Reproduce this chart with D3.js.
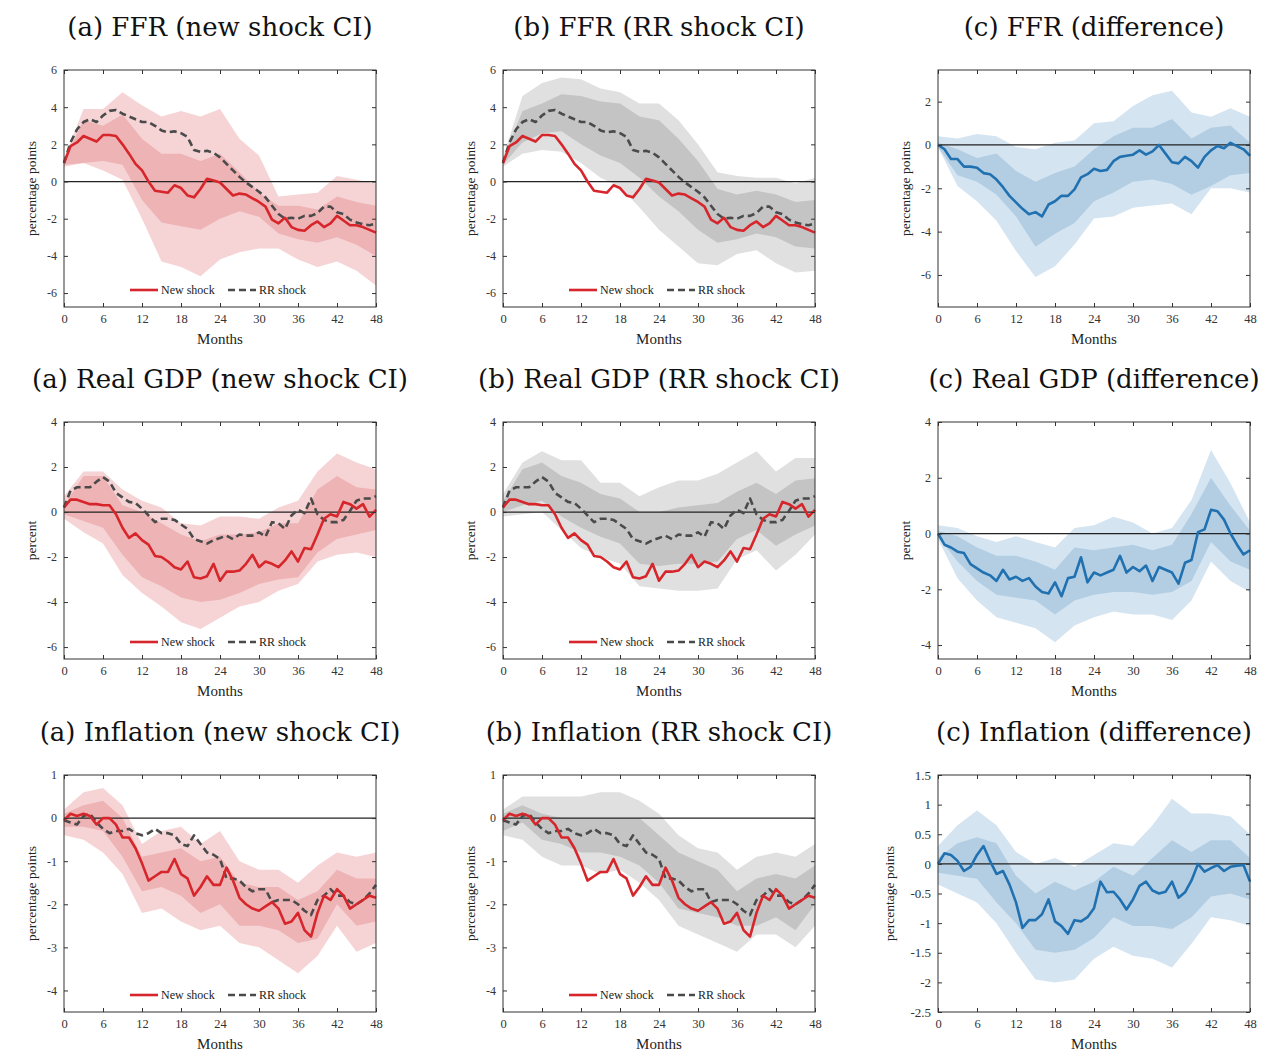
<!DOCTYPE html>
<html>
<head>
<meta charset="utf-8">
<script src="https://cdn.jsdelivr.net/npm/d3@7"></script>
<style>
  body { margin: 0; background: #fff; }
  text { font-family: "Liberation Serif", "DejaVu Serif", serif; }
</style>
</head>
<body>
<script>
// months 0..48 for lines, every 3 months for bands
const months = d3.range(0, 49);
const bandMonths = d3.range(0, 49, 3);

// ---------- FFR ----------
const ffrNew = [1.0,1.9,2.1,2.45,2.3,2.15,2.5,2.5,2.45,2.0,1.5,0.95,0.6,0.0,-0.5,-0.55,-0.6,-0.2,-0.35,-0.75,-0.85,-0.4,0.15,0.05,-0.05,-0.4,-0.75,-0.65,-0.7,-0.9,-1.1,-1.35,-2.05,-2.25,-1.95,-2.45,-2.6,-2.65,-2.35,-2.15,-2.45,-2.25,-1.85,-2.1,-2.35,-2.35,-2.45,-2.6,-2.75];
const ffrRR = [1.0,2.1,2.8,3.2,3.35,3.2,3.55,3.8,3.85,3.65,3.5,3.35,3.2,3.2,3.0,2.75,2.65,2.7,2.6,2.4,1.7,1.6,1.65,1.55,1.3,0.95,0.6,0.25,-0.05,-0.3,-0.55,-0.85,-1.3,-1.75,-2.0,-1.95,-2.0,-1.85,-1.85,-1.7,-1.35,-1.35,-1.65,-1.75,-2.05,-2.2,-2.3,-2.35,-2.25];
const ffrDiff = [0,-0.2,-0.65,-0.65,-1.0,-1.0,-1.05,-1.3,-1.35,-1.6,-1.95,-2.35,-2.65,-2.95,-3.2,-3.1,-3.3,-2.75,-2.6,-2.35,-2.35,-2.05,-1.5,-1.35,-1.1,-1.2,-1.15,-0.75,-0.55,-0.5,-0.45,-0.25,-0.45,-0.3,0.0,-0.4,-0.8,-0.85,-0.55,-0.75,-1.05,-0.55,-0.25,-0.05,-0.15,0.1,-0.05,-0.2,-0.5];
const ffrNewIn  = { hi: [1.1,3.3,3.0,3.6,2.3,1.5,1.5,1.1,1.5,0.5,-0.6,-1.3,-1.3,-1.5,-0.8,-1.1,-1.3], lo: [0.9,1.0,1.1,0.9,-1.0,-2.2,-2.4,-2.6,-2.0,-1.6,-1.9,-2.8,-3.1,-3.3,-3.0,-3.4,-4.0] };
const ffrNewOut = { hi: [1.2,3.9,3.9,4.8,4.1,3.5,3.8,3.5,3.9,2.3,1.4,-0.8,-0.7,-0.6,0.3,0.1,-0.1], lo: [0.8,1.0,0.6,0.1,-2.0,-4.3,-4.6,-5.1,-4.2,-3.8,-3.6,-3.6,-4.2,-4.6,-4.3,-4.8,-5.6] };
const ffrRRIn   = { hi: [1.2,3.8,4.2,4.7,4.6,4.3,4.2,3.5,3.3,2.3,1.1,-0.4,-0.7,-0.5,-0.7,-1.1,-1.0], lo: [0.9,2.1,2.6,2.7,2.0,1.4,1.0,0.2,-0.8,-1.6,-2.6,-3.3,-3.1,-2.8,-3.0,-3.5,-3.6] };
const ffrRROut  = { hi: [1.3,4.6,5.3,5.6,5.5,5.0,4.8,4.2,4.2,3.3,2.0,0.5,0.3,0.2,0.2,-0.1,0.2], lo: [0.8,1.5,1.7,1.6,1.0,0.2,-0.3,-1.4,-2.6,-3.5,-4.4,-4.5,-3.9,-3.7,-4.4,-4.9,-4.8] };
const ffrDiffIn  = { hi: [0.1,-0.2,-0.6,-0.4,-1.2,-1.7,-1.3,-1.0,-0.2,0.4,0.8,0.8,1.2,0.3,0.8,0.9,0.1], lo: [-0.1,-1.4,-1.7,-2.3,-3.3,-4.7,-4.1,-3.6,-2.6,-2.2,-1.7,-1.6,-1.8,-2.3,-1.9,-1.4,-1.3] };
const ffrDiffOut = { hi: [0.4,0.3,0.5,0.4,-0.1,-0.2,0.1,0.2,1.0,1.1,1.8,2.3,2.5,1.5,1.3,1.7,1.3], lo: [-0.1,-1.9,-2.6,-3.5,-4.9,-6.1,-5.6,-4.6,-3.4,-3.3,-2.9,-2.8,-2.7,-3.2,-2.0,-2.0,-2.2] };

// ---------- Real GDP ----------
const gdpNew = [0.2,0.55,0.55,0.45,0.35,0.35,0.3,0.3,-0.1,-0.7,-1.15,-0.95,-1.25,-1.45,-1.95,-2.0,-2.2,-2.45,-2.55,-2.2,-2.9,-2.95,-2.85,-2.3,-3.05,-2.65,-2.65,-2.6,-2.3,-1.9,-2.45,-2.2,-2.3,-2.45,-2.15,-1.75,-2.2,-1.6,-1.65,-1.0,-0.3,-0.1,-0.2,0.45,0.35,0.15,0.35,-0.2,0.1];
const gdpRR = [0.2,0.95,1.1,1.1,1.1,1.35,1.55,1.35,0.85,0.65,0.45,0.4,0.15,-0.15,-0.45,-0.3,-0.3,-0.35,-0.55,-0.75,-1.2,-1.3,-1.4,-1.25,-1.15,-1.05,-1.2,-1.0,-1.05,-1.05,-0.9,-1.1,-0.45,-0.5,-0.75,-0.15,0.1,-0.05,0.6,-0.1,-0.35,-0.45,-0.45,-0.35,0.05,0.5,0.6,0.6,0.7];
const gdpDiff = [0,-0.4,-0.5,-0.65,-0.7,-1.1,-1.25,-1.4,-1.5,-1.7,-1.3,-1.65,-1.55,-1.7,-1.6,-1.9,-2.1,-2.15,-1.75,-2.25,-1.6,-1.55,-0.85,-1.75,-1.4,-1.5,-1.4,-1.3,-0.8,-1.4,-1.2,-1.35,-1.15,-1.7,-1.2,-1.3,-1.4,-1.8,-1.05,-0.95,0.05,0.15,0.85,0.8,0.5,0.0,-0.4,-0.75,-0.6];
const gdpNewIn  = { hi: [0.3,1.6,1.6,0.3,0.0,-0.5,-1.0,-1.3,-1.0,-1.0,-0.9,-0.5,-0.5,1.0,1.6,1.1,1.0], lo: [-0.1,-0.4,-0.7,-1.9,-2.9,-3.3,-3.8,-4.0,-3.9,-3.6,-3.2,-3.0,-2.9,-1.8,-1.2,-1.0,-0.8] };
const gdpNewOut = { hi: [0.7,1.8,1.8,1.0,0.5,0.2,-0.5,-0.6,-0.2,-0.2,-0.3,0.2,0.5,1.8,2.6,2.2,1.9], lo: [-0.3,-0.9,-1.4,-2.8,-3.6,-4.2,-4.9,-5.2,-4.7,-4.2,-4.0,-3.5,-3.2,-2.2,-1.9,-1.8,-2.0] };
const gdpRRIn   = { hi: [0.5,1.9,2.2,1.6,1.3,0.8,0.6,0.0,0.0,0.2,0.3,0.4,0.9,1.3,0.8,1.4,1.5], lo: [0.0,0.3,0.5,-0.2,-0.7,-1.1,-1.4,-2.3,-2.4,-2.3,-2.3,-2.2,-1.2,-0.8,-1.5,-1.0,-0.6] };
const gdpRROut  = { hi: [0.8,2.2,2.7,2.3,2.3,1.3,1.3,0.7,1.1,1.4,1.4,1.7,2.2,2.7,1.8,2.4,2.4], lo: [-0.2,-0.1,0.0,-0.8,-1.6,-2.0,-2.3,-3.3,-3.4,-3.5,-3.5,-3.4,-2.1,-1.7,-2.6,-1.9,-1.0] };
const gdpDiffIn  = { hi: [0.1,-0.1,-0.5,-0.8,-0.8,-1.0,-1.3,-0.5,-0.6,-0.5,-0.4,-0.6,-0.4,0.7,2.0,1.0,0.1], lo: [-0.1,-1.0,-1.7,-2.2,-2.3,-2.4,-2.9,-2.4,-2.2,-2.1,-2.1,-2.2,-2.1,-1.7,-0.3,-1.0,-1.3] };
const gdpDiffOut = { hi: [0.3,0.2,-0.1,-0.3,-0.1,-0.3,-0.5,0.2,0.3,0.6,0.4,0.0,0.2,1.2,3.0,1.8,0.4], lo: [-0.2,-1.6,-2.4,-3.0,-3.2,-3.4,-3.9,-3.3,-3.0,-2.8,-2.9,-2.9,-3.1,-2.4,-1.0,-1.7,-2.1] };

// ---------- Inflation ----------
const infNew = [-0.05,0.1,0.05,0.1,0.05,-0.15,0.0,0.0,-0.15,-0.45,-0.45,-0.7,-1.05,-1.45,-1.35,-1.25,-1.25,-0.95,-1.3,-1.4,-1.8,-1.6,-1.35,-1.55,-1.55,-1.15,-1.45,-1.85,-2.0,-2.1,-2.15,-2.05,-1.95,-2.1,-2.45,-2.4,-2.2,-2.6,-2.75,-2.2,-1.8,-1.9,-1.65,-1.8,-2.1,-2.0,-1.9,-1.8,-1.85];
const infRR = [-0.05,-0.1,-0.15,0.05,0.1,-0.1,-0.25,-0.35,-0.3,-0.3,-0.25,-0.35,-0.4,-0.35,-0.25,-0.35,-0.35,-0.4,-0.6,-0.65,-0.4,-0.6,-0.8,-0.85,-0.95,-1.4,-1.4,-1.45,-1.6,-1.7,-1.65,-1.65,-1.95,-1.9,-1.9,-1.9,-2.0,-2.15,-2.25,-1.9,-1.8,-1.65,-1.8,-1.8,-1.95,-2.0,-1.9,-1.75,-1.55];
const infDiff = [0,0.18,0.15,0.05,-0.12,-0.05,0.15,0.3,0.05,-0.17,-0.12,-0.35,-0.65,-1.08,-0.95,-0.95,-0.85,-0.6,-0.97,-1.05,-1.18,-0.95,-0.97,-0.9,-0.75,-0.3,-0.48,-0.47,-0.6,-0.77,-0.6,-0.37,-0.3,-0.45,-0.5,-0.47,-0.3,-0.57,-0.48,-0.28,0.0,-0.13,-0.07,-0.02,-0.12,-0.05,-0.03,-0.02,-0.3];
const infNewIn  = { hi: [0.1,0.3,0.4,0.0,-0.9,-0.8,-0.7,-1.0,-0.9,-1.5,-1.6,-1.6,-1.9,-1.7,-1.2,-1.4,-1.4], lo: [-0.2,-0.2,-0.3,-0.9,-1.7,-1.6,-1.8,-2.2,-2.0,-2.5,-2.5,-2.6,-2.9,-2.8,-2.0,-2.5,-2.4] };
const infNewOut = { hi: [0.2,0.6,0.7,0.3,-0.6,-0.3,-0.2,-0.6,-0.3,-1.0,-1.2,-1.2,-1.5,-1.1,-0.8,-0.9,-0.8], lo: [-0.4,-0.5,-0.8,-1.3,-2.2,-2.1,-2.4,-2.6,-2.5,-2.9,-3.0,-3.3,-3.6,-3.2,-2.5,-3.1,-2.9] };
const infRRIn   = { hi: [0.1,0.3,0.1,0.0,0.0,0.0,0.0,0.0,-0.4,-0.8,-1.0,-1.2,-1.7,-1.4,-1.3,-1.4,-1.1], lo: [-0.3,-0.1,-0.5,-0.6,-0.8,-0.8,-0.9,-1.1,-1.5,-2.1,-2.2,-2.3,-2.5,-2.5,-2.3,-2.6,-2.0] };
const infRROut  = { hi: [0.2,0.5,0.5,0.5,0.5,0.6,0.6,0.4,0.1,-0.4,-0.7,-0.8,-1.2,-0.9,-0.8,-0.9,-0.6], lo: [-0.4,-0.5,-0.9,-1.1,-1.1,-1.3,-1.2,-1.5,-1.9,-2.5,-2.7,-2.9,-3.1,-2.7,-2.7,-3.0,-2.5] };
const infDiffIn  = { hi: [0.1,0.35,0.45,0.35,-0.2,-0.5,-0.3,-0.45,-0.3,-0.05,-0.2,0.1,0.4,0.2,0.4,0.4,0.1], lo: [-0.15,-0.2,-0.25,-0.65,-1.0,-1.45,-1.5,-1.45,-1.25,-0.9,-1.05,-1.05,-1.1,-0.9,-0.55,-0.5,-0.6] };
const infDiffOut = { hi: [0.3,0.65,0.9,0.65,0.2,0.0,0.1,-0.05,0.15,0.35,0.3,0.65,1.1,0.85,0.85,0.8,0.5], lo: [-0.35,-0.5,-0.65,-1.0,-1.5,-1.95,-2.0,-1.95,-1.6,-1.4,-1.55,-1.6,-1.75,-1.35,-0.9,-0.95,-1.05] };

const xTicks = d3.range(0, 49, 6);

const colors = {
  red: "#d7262b", redOut: "#f6d4d6", redIn: "#eeb3b5",
  gray: "#4a4a4a", grayOut: "#e0e0e0", grayIn: "#c4c4c4",
  blue: "#2171b0", blueOut: "#d4e4f1", blueIn: "#b3cee3"
};

const rows = [
  { name: "FFR", unit: "percentage points", top: 70, dom: [-6.75, 6], yt: d3.range(-6, 7, 2), domC: [-7.48, 3.46], ytC: d3.range(-6, 3, 2),
    nw: ffrNew, rr: ffrRR, diff: ffrDiff, nIn: ffrNewIn, nOut: ffrNewOut, rIn: ffrRRIn, rOut: ffrRROut, dIn: ffrDiffIn, dOut: ffrDiffOut },
  { name: "Real GDP", unit: "percent", top: 422, dom: [-6.53, 4], yt: d3.range(-6, 5, 2), domC: [-4.5, 4], ytC: d3.range(-4, 5, 2),
    nw: gdpNew, rr: gdpRR, diff: gdpDiff, nIn: gdpNewIn, nOut: gdpNewOut, rIn: gdpRRIn, rOut: gdpRROut, dIn: gdpDiffIn, dOut: gdpDiffOut },
  { name: "Inflation", unit: "percentage points", top: 775, dom: [-4.5, 1], yt: d3.range(-4, 2, 1), domC: [-2.5, 1.5], ytC: d3.range(-2.5, 1.6, 0.5),
    nw: infNew, rr: infRR, diff: infDiff, nIn: infNewIn, nOut: infNewOut, rIn: infRRIn, rOut: infRROut, dIn: infDiffIn, dOut: infDiffOut }
];

const colX = [64, 503, 938];
const plotW = 312, plotH = 237;

const svg = d3.select("body").append("svg").attr("width", 1265).attr("height", 1051);

function bandArea(g, x, y, band, fill) {
  const pts = bandMonths.map((m, i) => ({ m: m, lo: band.lo[i], hi: band.hi[i] }));
  g.append("path").datum(pts)
    .attr("fill", fill)
    .attr("d", d3.area().x(d => x(d.m)).y0(d => y(d.lo)).y1(d => y(d.hi)));
}

function lineOf(g, x, y, vals, color, dash) {
  g.append("path").datum(vals)
    .attr("fill", "none").attr("stroke", color).attr("stroke-width", 2.6)
    .attr("stroke-dasharray", dash || null)
    .attr("stroke-linejoin", "round")
    .attr("d", d3.line().x((d, i) => x(months[i])).y(d => y(d)));
}

function panel(row, col) {
  const left = colX[col], top = row.top;
  const isDiff = col === 2;
  const x = d3.scaleLinear().domain([0, 48]).range([0, plotW]);
  const y = d3.scaleLinear().domain(isDiff ? row.domC : row.dom).range([plotH, 0]);
  const g = svg.append("g").attr("transform", `translate(${left},${top})`);

  const labels = ["(a) " + row.name + " (new shock CI)", "(b) " + row.name + " (RR shock CI)", "(c) " + row.name + " (difference)"];
  g.append("text").attr("x", plotW / 2).attr("y", -34).attr("text-anchor", "middle")
    .style("font-family", "'DejaVu Serif', serif").style("font-size", "26px")
    .attr("fill", "#111").text(labels[col]);

  if (col === 0) { bandArea(g, x, y, row.nOut, colors.redOut); bandArea(g, x, y, row.nIn, colors.redIn); }
  if (col === 1) { bandArea(g, x, y, row.rOut, colors.grayOut); bandArea(g, x, y, row.rIn, colors.grayIn); }
  if (isDiff) { bandArea(g, x, y, row.dOut, colors.blueOut); bandArea(g, x, y, row.dIn, colors.blueIn); }

  g.append("line").attr("x1", 0).attr("x2", plotW).attr("y1", y(0)).attr("y2", y(0))
    .attr("stroke", "#222").attr("stroke-width", 1.2);

  if (isDiff) {
    lineOf(g, x, y, row.diff, colors.blue);
  } else {
    lineOf(g, x, y, row.rr, colors.gray, "7,4");
    lineOf(g, x, y, row.nw, colors.red);
  }

  // axes, matlab style ticks inside on all sides
  const yt = isDiff ? row.ytC : row.yt;
  const axStyle = sel => {
    sel.select(".domain").remove();
    sel.selectAll("line").attr("stroke", "#333");
    sel.selectAll("text").attr("font-family", "Liberation Serif, serif").attr("fill", "#333");
  };
  const fs = isDiff && row.name === "Inflation" ? 13 : 12;
  g.append("g").attr("transform", `translate(0,${plotH})`)
    .call(d3.axisBottom(x).tickValues(xTicks).tickSize(-4).tickPadding(7))
    .call(axStyle).selectAll("text").attr("font-size", 12.5);
  g.append("g").call(d3.axisTop(x).tickValues(xTicks).tickSize(-4).tickFormat("")).call(axStyle);
  g.append("g")
    .call(d3.axisLeft(y).tickValues(yt).tickSize(-4).tickPadding(7).tickFormat(d => d3.format("")(+d.toFixed(1)).replace("−", "-")))
    .call(axStyle).selectAll("text").attr("font-size", fs);
  g.append("g").attr("transform", `translate(${plotW},0)`)
    .call(d3.axisRight(y).tickValues(yt).tickSize(-4).tickFormat("")).call(axStyle);

  g.append("rect").attr("width", plotW).attr("height", plotH)
    .attr("fill", "none").attr("stroke", "#333").attr("stroke-width", 1);

  g.append("text").attr("x", plotW / 2).attr("y", plotH + 37).attr("text-anchor", "middle")
    .attr("font-size", 15).attr("fill", "#222").text("Months");
  const yl = isDiff && row.name === "Inflation" ? -44 : -28;
  g.append("text").attr("transform", `translate(${yl},${plotH / 2}) rotate(-90)`)
    .attr("text-anchor", "middle").attr("font-size", 13.5).attr("fill", "#222").text(row.unit);

  if (!isDiff) {
    const ly = plotH - 17;
    const lg = g.append("g").attr("transform", `translate(66,${ly})`);
    lg.append("line").attr("x1", 0).attr("x2", 28).attr("stroke", colors.red).attr("stroke-width", 2.6);
    lg.append("text").attr("x", 31).attr("y", 4).attr("font-size", 12).attr("fill", "#222").text("New shock");
    lg.append("line").attr("x1", 98).attr("x2", 126).attr("stroke", colors.gray).attr("stroke-width", 2.6).attr("stroke-dasharray", "7,4");
    lg.append("text").attr("x", 129).attr("y", 4).attr("font-size", 12).attr("fill", "#222").text("RR shock");
  }
}

rows.forEach(r => [0, 1, 2].forEach(c => panel(r, c)));
</script>
</body>
</html>
